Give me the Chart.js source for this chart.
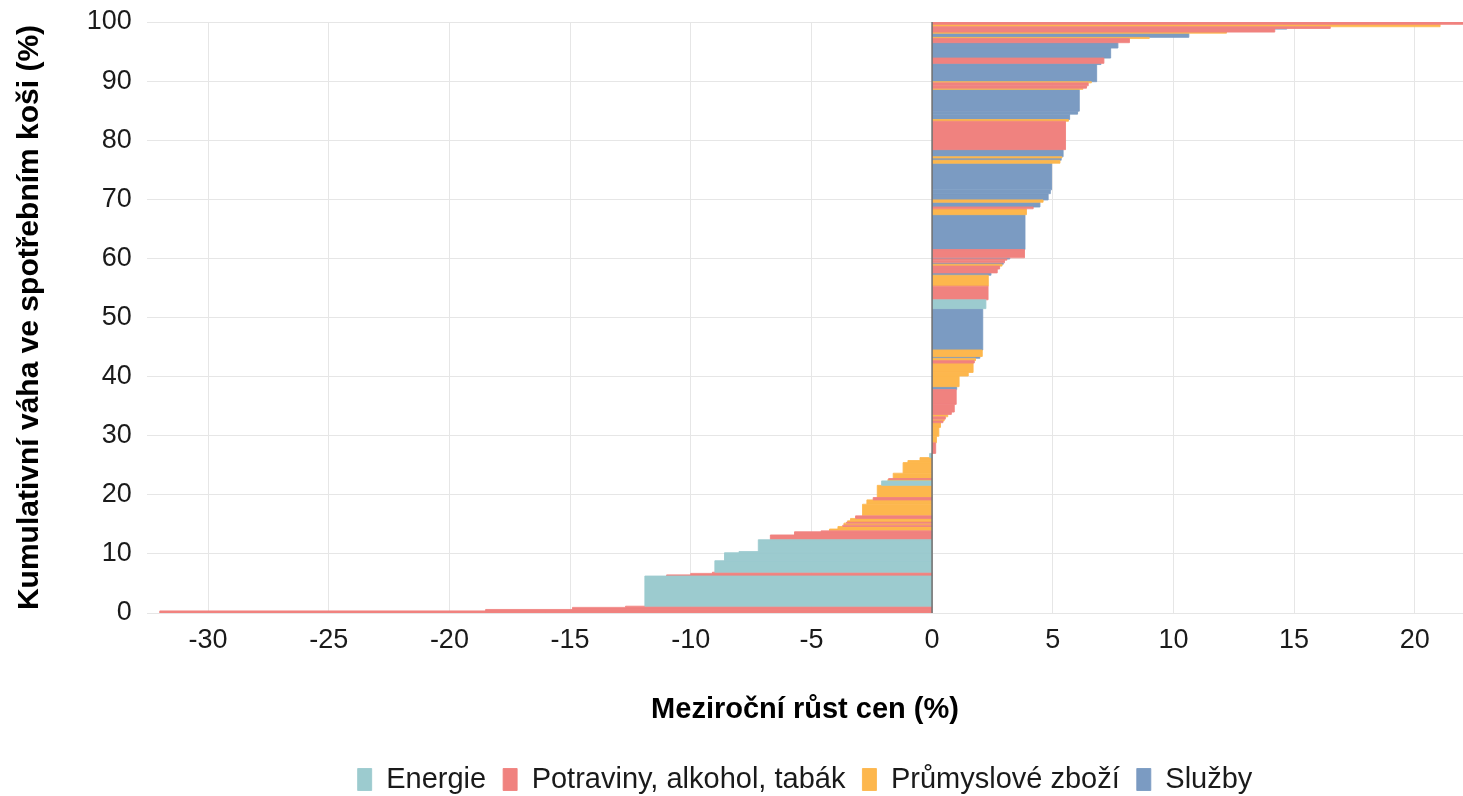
<!DOCTYPE html>
<html>
<head>
<meta charset="utf-8">
<script src="https://cdn.jsdelivr.net/npm/chart.js@4.4.1/dist/chart.umd.min.js"></script>
<style>
html,body{margin:0;padding:0;background:#ffffff;overflow:hidden;}
#wrap{width:1463px;height:804px;position:relative;}
</style>
</head>
<body>
<div id="wrap"><canvas id="c"></canvas></div>
<script>
// ---- DATA ----
const seriesNames = ["Energie", "Potraviny, alkohol, tabák", "Průmyslové zboží", "Služby"];
// group index of each basket item (sorted by price growth)
const itemGroup = [
  1,1,1,1,0,1,1,1,0,0,0,0,1,1,1,2,2,1,2,1,2,2,1,2,2,1,2,0,2,1,2,2,2,2,0,
  1,2,2,2,1,2,1,2,1,1,1,3,2,2,2,1,2,3,2,3,0,1,2,3,1,1,2,3,1,1,3,1,3,2,1,
  3,2,3,3,3,2,3,2,3,1,2,3,3,3,2,1,1,2,3,3,1,3,3,1,2,3,2,1,3,1,2,1
];
// year-on-year price growth of each item (%)
const itemGrowth = [
  -32.0,-18.5,-14.9,-12.7,-11.9,-11.0,-10.0,-9.1,-9.0,-8.6,-8.0,-7.2,-6.7,-5.7,-4.6,-4.25,-3.9,-3.7,-3.65,-3.55,
  -3.5,-3.38,-3.17,-2.88,-2.7,-2.44,-2.27,-2.09,-1.83,-1.8,-1.61,-1.2,-1.0,-0.5,-0.1,
  0.15,0.18,0.28,0.35,0.45,0.5,0.55,0.65,0.8,0.92,1.0,1.02,1.12,1.5,1.7,1.75,1.8,1.98,2.08,2.1,
  2.23,2.32,2.33,2.44,2.7,2.8,2.9,2.95,3.0,3.1,3.22,3.83,3.85,3.91,4.19,4.47,4.6,4.81,4.9,4.95,
  5.3,5.35,5.38,5.43,5.53,5.65,5.7,6.03,6.1,6.25,6.4,6.47,6.6,6.82,7.0,7.12,7.4,7.7,8.18,9.0,
  10.64,12.2,14.2,14.7,16.5,21.05,22.5
];
// weight of each item in the consumer basket (%)
const itemWeight = [
  0.35,0.25,0.35,0.2,5.1,0.2,0.25,0.2,1.95,1.35,0.2,2.0,0.8,0.55,0.15,0.3,0.44,0.22,0.34,0.15,
  0.25,0.4,0.44,1.96,0.74,0.4,2.06,0.75,0.25,0.15,0.9,1.8,0.35,0.5,0.7,
  1.8,1.1,1.5,0.8,0.3,0.3,0.4,0.4,0.4,1.3,2.5,0.5,1.8,0.6,1.6,0.4,0.4,0.3,1.1,7.0,
  1.5,2.3,1.85,0.4,0.65,0.5,0.3,0.25,0.45,0.2,0.2,1.4,5.9,1.0,0.3,0.8,0.4,1.05,0.65,4.5,
  0.5,0.4,0.2,1.2,4.8,0.3,0.9,0.5,3.7,0.2,0.4,0.5,0.2,2.9,0.2,0.9,1.7,0.9,0.7,0.2,
  0.7,0.2,0.5,0.1,0.3,0.4,0.4
];
const xTickValues = [-30,-25,-20,-15,-10,-5,0,5,10,15,20];
const yTickValues = [0,10,20,30,40,50,60,70,80,90,100];
const xTitle = "Meziroční růst cen (%)";
const yTitle = "Kumulativní váha ve spotřebním koši (%)";

// ---- STYLE ----
const palette = ["#9ccbcf", "#f0827f", "#fdb74d", "#7b9bc2"];
const FONT = "'Liberation Sans', Arial, Helvetica, sans-serif";

// ---- BUILD DATASETS (each item = rectangle from 0 to its growth, spanning its weight) ----
const groupPoints = seriesNames.map(() => []);
let cum = 0;
itemGrowth.forEach((g, i) => {
  const y0 = cum;
  const y1 = cum + itemWeight[i];
  cum = y1;
  groupPoints[itemGroup[i]].push(
    {x: 0, y: y0}, {x: g, y: y0}, {x: g, y: y1}, {x: 0, y: y1}, {x: null, y: y1}
  );
});

const datasets = seriesNames.map((name, k) => ({
  label: name,
  data: groupPoints[k],
  fill: 'origin',
  backgroundColor: palette[k],
  borderColor: palette[k],
  borderWidth: 0.9,
  pointRadius: 0,
  pointHoverRadius: 0,
  tension: 0,
  spanGaps: false
}));
datasets.push({
  label: '',
  data: [{x: 0, y: 0}, {x: 0, y: cum}],
  fill: false,
  borderColor: '#6f6f6f',
  borderWidth: 1.5,
  pointRadius: 0,
  pointHoverRadius: 0,
  order: -1
});

const keepTicks = (list) => (scale) => {
  scale.ticks = scale.ticks.filter(t => list.some(v => Math.abs(v - t.value) < 1e-9));
};

new Chart(document.getElementById('c'), {
  type: 'line',
  data: {datasets},
  options: {
    indexAxis: 'y',
    responsive: true,
    maintainAspectRatio: false,
    animation: false,
    events: [],
    layout: {padding: {top: 22, left: 0, right: 0, bottom: 0}},
    scales: {
      x: {
        type: 'linear',
        min: -32.53,
        max: 22.0,
        border: {display: false},
        grid: {color: '#e6e6e6', lineWidth: 1, drawTicks: false},
        ticks: {stepSize: 5, includeBounds: false, maxRotation: 0, padding: 11.5,
                color: '#1a1a1a', font: {family: FONT, size: 27}},
        afterBuildTicks: keepTicks(xTickValues),
        afterFit: (s) => { s.height = 135; s.paddingLeft = 0; s.paddingRight = 0; },
        title: {display: true, text: xTitle, color: '#000000',
                font: {family: FONT, size: 29, weight: 'bold'},
                padding: {top: 0, bottom: 21.1}}
      },
      y: {
        type: 'linear',
        min: 0,
        max: 100,
        border: {display: false},
        grid: {color: '#e6e6e6', lineWidth: 1, drawTicks: false},
        ticks: {stepSize: 10, includeBounds: false, padding: 15.3,
                color: '#1a1a1a', font: {family: FONT, size: 27}},
        afterBuildTicks: keepTicks(yTickValues),
        afterFit: (s) => { s.width = 147; s.paddingTop = 0; s.paddingBottom = 0; },
        title: {display: true, text: yTitle, color: '#000000',
                font: {family: FONT, size: 30, weight: 'bold'},
                padding: {top: 12, bottom: 0}}
      }
    },
    plugins: {
      legend: {
        display: true,
        position: 'bottom',
        fullSize: false,
        labels: {
          boxWidth: 14,
          boxHeight: 22,
          padding: 17,
          color: '#1a1a1a',
          font: {family: FONT, size: 29},
          filter: (item) => item.text !== ''
        }
      },
      tooltip: {enabled: false}
    }
  }
});
</script>
</body>
</html>
